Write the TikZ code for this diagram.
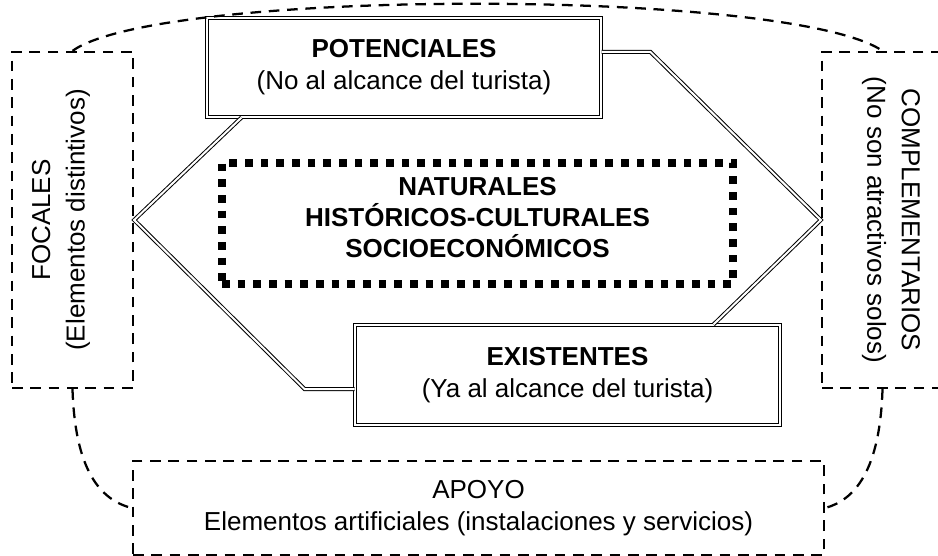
\documentclass[tikz,border=0pt]{standalone}
\usepackage{fontspec}
\setmainfont{Liberation Sans}
\usetikzlibrary{calc}

\tikzset{every picture/.style={line width=0.75pt}}
\tikzset{
    dblbox/.style={draw, double, double distance=1.5pt, align=center, inner sep=0pt, font=\fontsize{19.5}{24}\selectfont},
    dashbox/.style={draw, line width=1.7pt, dash pattern={on 8pt off 5.75pt}, align=center, inner sep=0pt, font=\fontsize{19.5}{23.5}\selectfont},
    dotbox/.style={draw, line width=5.5pt, dash pattern={on 5.75pt off 6pt}, inner sep=0pt},
    dblline/.style={double, double distance=1.5pt},
    dashline/.style={line width=1.7pt, dash pattern={on 8pt off 5.75pt}},
    sidetxt/.style={align=center, inner sep=0pt, font=\fontsize{19.5}{26}\selectfont},
    maintxt/.style={align=center, inner sep=0pt, font=\fontsize{19.5}{23.5}\selectfont\bfseries}
}

\begin{document}
\begin{tikzpicture}[x=0.75pt,y=0.75pt,yscale=-1,xscale=1]
    \useasboundingbox (0,0) rectangle (938,556);
    \clip (0,0) rectangle (938,556);

    %Shape: Rectangle [focales]
    \node [dashbox, minimum width=90.75pt, minimum height=252pt] (foc) at (72.5,220) {};
    %Shape: Rectangle [complementarios]
    \node [dashbox, minimum width=90.75pt, minimum height=252pt] (comp) at (882.5,220) {};
    %Shape: Rectangle [apoyo]
    \node [dashbox, minimum width=518.25pt, minimum height=70.5pt] (apo) at (478.5,508) {APOYO\\Elementos artificiales (instalaciones y servicios)};
    %Double Rect [potenciales]
    \node [dblbox, minimum width=295.5pt, minimum height=74.25pt] (pot) at (404,67.5) {\textbf{POTENCIALES}\\(No al alcance del turista)};
    %Double Rect [existentes]
    \node [dblbox, minimum width=318.75pt, minimum height=75pt] (exi) at (567.5,375) {\textbf{EXISTENTES}\\(Ya al alcance del turista)};
    %Dotted Rect [naturales]
    \node [dotbox, minimum width=383.25pt, minimum height=90.75pt] (nat) at (477.5,223.5) {};

    %Straight Lines
    \draw [dblline] ($(pot.south west)+(35,0)$) -- (foc.east) -- ($(exi.west)+(-50,14)$) -- ($(exi.west)+(0,14)$);
    %Straight Lines
    \draw [dblline] ($(pot.east)+(0,-15.5)$) -- ($(pot.east)+(49,-15.5)$) -- (comp.west) -- ($(exi.north east)+(-67,0)$);
    %Curve Lines
    \draw [dashline] (foc.north) .. controls (160,-12) and (790,-12) .. (comp.north);
    %Curve Lines
    \draw [dashline] (foc.south) .. controls (75,470) and (100,500) .. (apo.west);
    %Curve Lines
    \draw [dashline] (comp.south) .. controls (880,470) and (855,500) .. (apo.east);

    % Text Node
    \node [sidetxt, rotate=90] (foctxt) at ($(foc.center)+(-11.5,0)$) {FOCALES\\(Elementos distintivos)};
    % Text Node
    \node [sidetxt, rotate=-90] (comptxt) at ($(comp.center)+(8.5,0)$) {COMPLEMENTARIOS\\(No son atractivos solos)};
    % Text Node
    \node [maintxt] (nattxt) at ($(nat.center)+(0,-6)$) {NATURALES\\HISTÓRICOS-CULTURALES\\SOCIOECONÓMICOS};

\end{tikzpicture}
\end{document}
